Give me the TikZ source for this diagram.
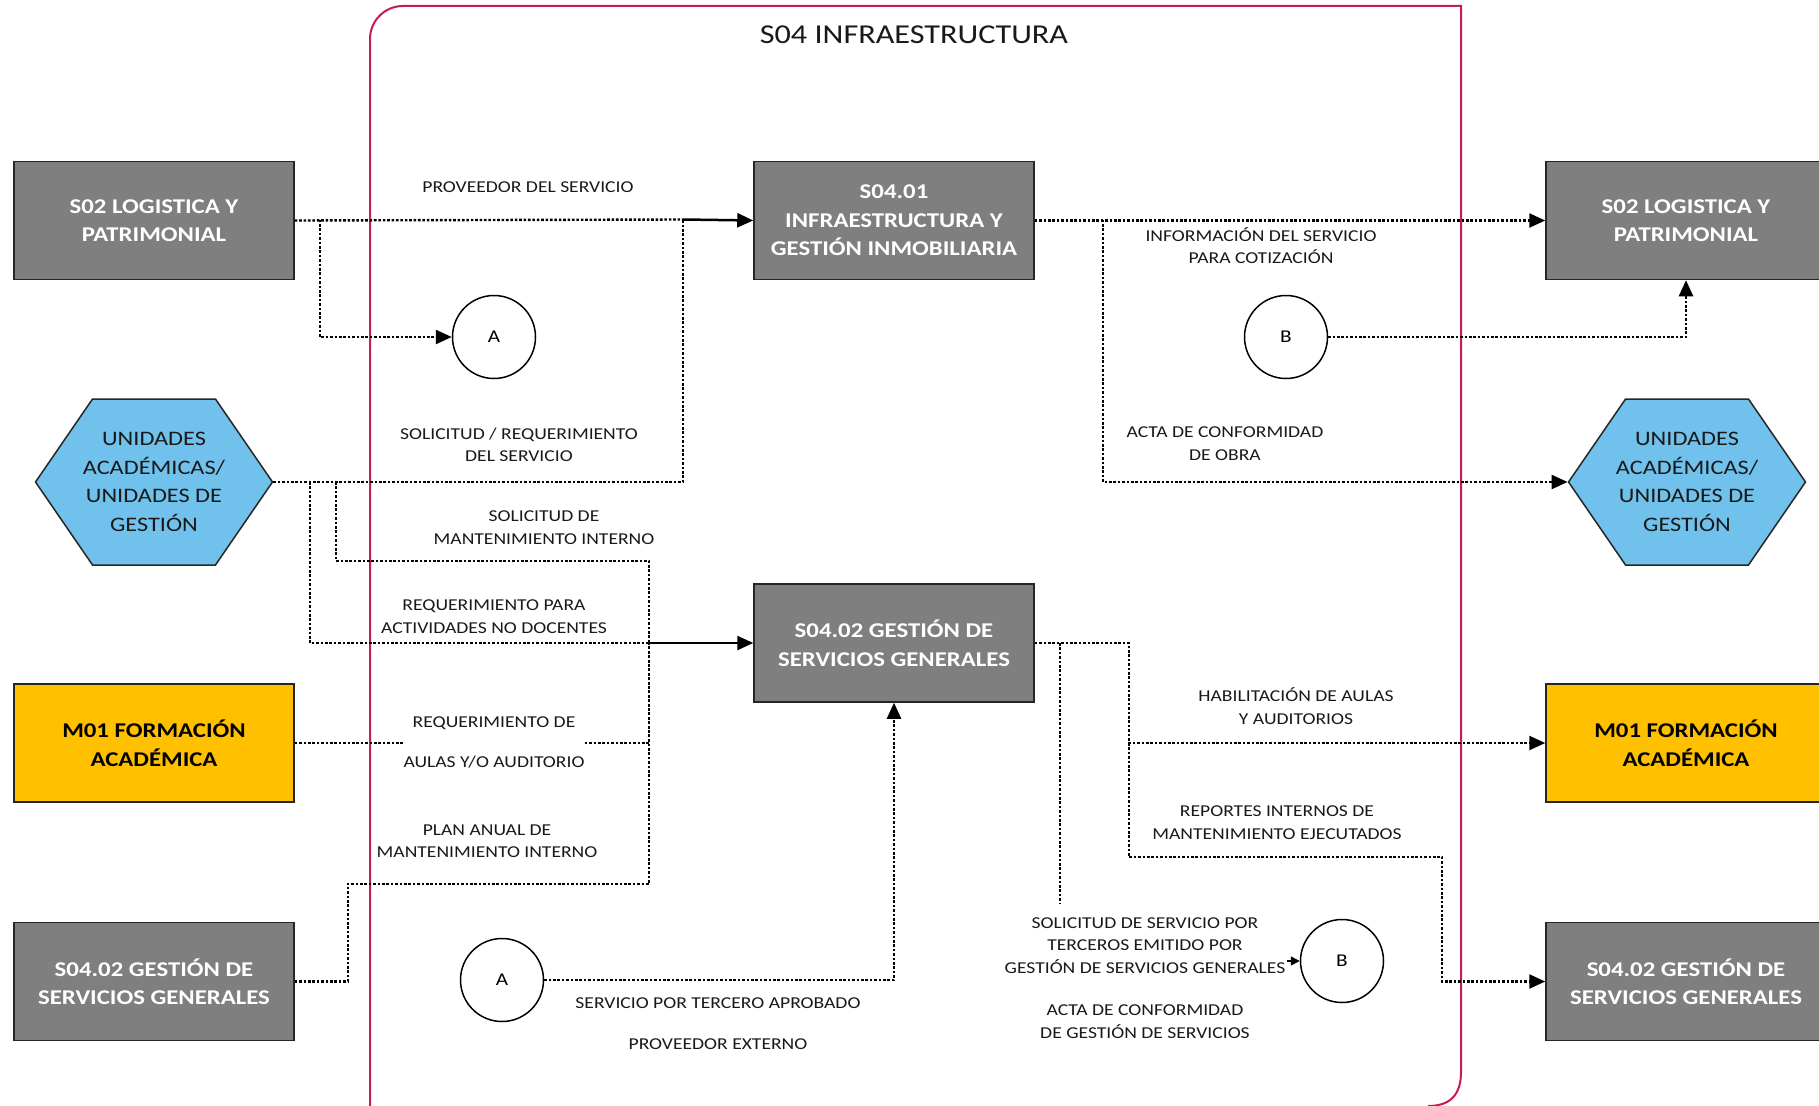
\documentclass[tikz,border=0pt]{standalone}
\usepackage{fontspec}
\setmainfont{Carlito}[FakeStretch=1.18]
\usetikzlibrary{shapes,arrows.meta,positioning,calc}
\definecolor{boxgray}{RGB}{127,127,127}
\definecolor{boxyellow}{RGB}{255,192,0}
\definecolor{hexblue}{RGB}{112,194,236}
\definecolor{zonered}{RGB}{196,30,80}

\begin{document}
\begin{tikzpicture}[x=1pt, y=-1pt, node distance=740pt,
    gbox/.style={draw=black!85, line width=1.5pt, fill=boxgray, text=white, font=\bfseries\fontsize{21}{28.5}\selectfont, align=center, minimum width=280pt, minimum height=118pt, inner sep=0pt},
    ybox/.style={gbox, fill=boxyellow, text=black},
    hexa/.style={signal, signal to=east and west, signal pointer angle=111, draw=black!85, line width=1.5pt, fill=hexblue, minimum width=237pt, minimum height=166pt, inner sep=0pt},
    hextxt/.style={font=\fontsize{20.6}{28.7}\selectfont, align=center, text=black!90, inner sep=0pt},
    conn/.style={circle, draw, line width=1.5pt, minimum size=83pt, inner sep=0pt, font=\fontsize{18}{22}\selectfont},
    lbl/.style={font=\fontsize{16.6}{22.5}\selectfont, align=center, text=black!90, inner sep=1pt},
    flow/.style={line width=2.4pt, dash pattern=on 2.6pt off 1.8pt},
    arr/.style={-{Triangle[length=16pt, width=14pt]}},
    zoneline/.style={draw=zonered, line width=2pt}]
    \path[fill=white, use as bounding box] (0,0) rectangle (1819,1105);
    \draw[zoneline] (370,1110) [rounded corners=33pt] -- (370,6) [sharp corners] -- (1461,6) -- (1461,1072) .. controls (1461,1095) and (1450,1106) .. (1428,1106);
    \node[font=\fontsize{27.3}{30}\selectfont, text=black!90] (title) at (914,35) {S04 INFRAESTRUCTURA};

    \node[gbox] (s02L) at (154,220.5) {S02 LOGISTICA Y\\PATRIMONIAL};
    \node[gbox, right of=s02L] (sio) {S04.01\\INFRAESTRUCTURA Y\\GESTIÓN INMOBILIARIA};
    \node[gbox, right of=sio, xshift=52pt] (s02R) {S02 LOGISTICA Y\\PATRIMONIAL};
    \node[hexa] (uniL) at (154,482) {};
    \node[hextxt] (uniLtxt) at (uniL) {UNIDADES\\ACADÉMICAS/\\UNIDADES DE\\GESTIÓN};
    \node[hexa, right of=uniL, node distance=1533pt] (uniR) {};
    \node[hextxt] (uniRtxt) at (uniR) {UNIDADES\\ACADÉMICAS/\\UNIDADES DE\\GESTIÓN};
    \node[gbox] (sgs) at (894,643) {S04.02 GESTIÓN DE\\SERVICIOS GENERALES};
    \node[ybox] (m01L) at (154,743) {M01 FORMACIÓN\\ACADÉMICA};
    \node[ybox, right of=m01L, node distance=1532pt] (m01R) {M01 FORMACIÓN\\ACADÉMICA};
    \node[gbox] (sgsL) at (154,981.5) {S04.02 GESTIÓN DE\\SERVICIOS GENERALES};
    \node[gbox, right of=sgsL, node distance=1532pt] (sgsR) {S04.02 GESTIÓN DE\\SERVICIOS GENERALES};

    \node[conn] (cA1) at (494,337) {A};
    \node[conn] (cB1) at (1286,337) {B};
    \node[conn] (cA2) at (502,980) {A};
    \node[conn] (cB2) at (1342,961) {B};

    \node[lbl] (lProv) at (528,187) {PROVEEDOR DEL SERVICIO};
    \node[lbl] (lSolReq) at (519,445) {SOLICITUD / REQUERIMIENTO\\DEL SERVICIO};
    \node[lbl] (lSolMant) at (544,527.5) {SOLICITUD DE\\MANTENIMIENTO INTERNO};
    \node[lbl] (lReqAct) at (494,616.5) {REQUERIMIENTO PARA\\ACTIVIDADES NO DOCENTES};
    \node[lbl, inner xsep=0pt] (lReqAul) at (494,742.5) {REQUERIMIENTO DE\\[18pt]AULAS Y/O AUDITORIO};
    \node[lbl] (lPlan) at (487,841) {PLAN ANUAL DE\\MANTENIMIENTO INTERNO};
    \node[lbl] (lServ) at (718,1003) {SERVICIO POR TERCERO APROBADO};
    \node[lbl] (lProvExt) at (718,1044) {PROVEEDOR EXTERNO};
    \node[lbl] (lInfo) at (1261,245.5) {INFORMACIÓN DEL SERVICIO\\PARA COTIZACIÓN};
    \node[lbl] (lActaObra) at (1225,443.5) {ACTA DE CONFORMIDAD\\DE OBRA};
    \node[lbl] (lHab) at (1296,706) {HABILITACIÓN DE AULAS\\Y AUDITORIOS};
    \node[lbl] (lRep) at (1277,822.5) {REPORTES INTERNOS DE\\MANTENIMIENTO EJECUTADOS};
    \node[lbl] (lSolServ) at (1145,945.5) {SOLICITUD DE SERVICIO POR\\TERCEROS EMITIDO POR\\GESTIÓN DE SERVICIOS GENERALES};
    \node[lbl] (lActaGest) at (1145,1021.5) {ACTA DE CONFORMIDAD\\DE GESTIÓN DE SERVICIOS};

    \coordinate (jn1) at (683,219.5);
    \coordinate (jn2) at (649,643);
    \coordinate (s02Lbr) at (320,219.5);
    \coordinate (uniLbr1) at (310,482);
    \coordinate (uniLbr2) at (336,482);
    \coordinate (sioBr) at (1103,219.5);
    \coordinate (sgsBr1) at (1060,643);
    \coordinate (sgsBr2) at (1129,643);
    \coordinate (habBr) at (1129,743);
    \coordinate (repBend) at (1442,857);
    \coordinate (solEnd) at (1060,903);

    \draw[flow] (s02L.east) -- (jn1);
    \draw[line width=2.5pt, arr] (jn1) -- (sio.west);
    \draw[flow, arr] (s02Lbr) |- (cA1.west);
    \draw[flow] (uniL.east) -| (jn1);
    \draw[flow] (uniLbr1) |- (jn2);
    \draw[flow] (uniLbr2) |- ($(jn2)+(0,-82)$) -- (jn2);
    \draw[flow] (m01L) -- (m01L -| lReqAul.west);
    \draw[flow] (m01L -| lReqAul.east) -| (jn2);
    \draw[flow] (sgsL.east) -- ++(53,0) |- ($(jn2)+(0,241)$) -- (jn2);
    \draw[line width=2.5pt, arr] (jn2) -- (sgs.west);
    \draw[flow, arr] (cA2) -| (sgs.south);
    \draw[flow, arr] (sio) -- (s02R);
    \draw[flow, arr] (sioBr) |- (uniR.west);
    \draw[flow, arr] (cB1) -| (s02R.south);
    \draw[flow, arr] (sgs.east) -- (sgsBr2) |- (m01R.west);
    \draw[flow, arr] (habBr) |- (repBend) |- (sgsR.west);
    \draw[flow] (sgsBr1) -- (solEnd);
    \draw[line width=1.5pt, -{Triangle[length=9pt, width=9pt]}] (lSolServ.east |- cB2) -- (cB2);
\end{tikzpicture}
\end{document}
